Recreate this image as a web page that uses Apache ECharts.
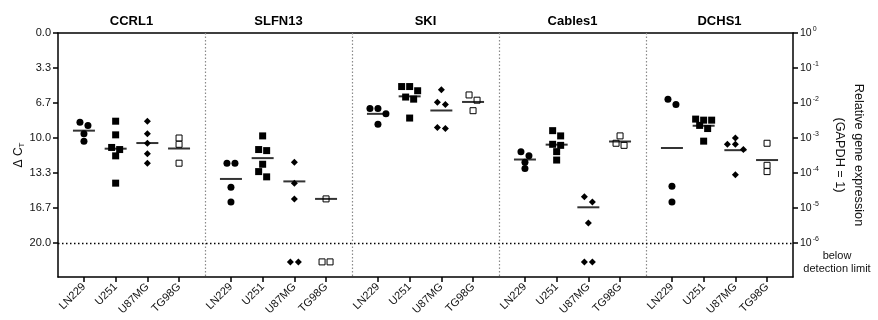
<!DOCTYPE html>
<html>
<head>
<meta charset="utf-8">
<script src="https://cdn.jsdelivr.net/npm/echarts/dist/echarts.min.js"></script>
<style>
  html, body { margin: 0; padding: 0; background: #fff; }
  #chart { width: 878px; height: 320px; }
</style>
</head>
<body>
<div id="chart"></div>
<script>
// ---------------- DATA ----------------
const genes = ['CCRL1', 'SLFN13', 'SKI', 'Cables1', 'DCHS1'];
const cellLines = ['LN229', 'U251', 'U87MG', 'TG98G'];
const leftTickLabels = ['0.0', '3.3', '6.7', '10.0', '13.3', '16.7', '20.0'];
const leftTickValues = [0, 10 / 3, 20 / 3, 10, 40 / 3, 50 / 3, 20];
const rightTickExponents = ['0', '-1', '-2', '-3', '-4', '-5', '-6'];

// ΔCT values per gene / cell line; null = below detection limit
const ccrl1_LN229 = [8.5, 8.8, 9.6, 10.3];
const ccrl1_U251 = [8.4, 9.7, 10.9, 11.1, 11.7, 14.3];
const ccrl1_U87MG = [8.4, 9.6, 10.5, 11.5, 12.4];
const ccrl1_TG98G = [10.0, 10.6, 12.4];

const slfn13_LN229 = [12.4, 12.4, 14.7, 16.1];
const slfn13_U251 = [9.8, 11.1, 11.2, 12.5, 13.2, 13.7];
const slfn13_U87MG = [12.3, 14.3, 15.8, null, null];
const slfn13_TG98G = [15.8, null, null];

const ski_LN229 = [7.2, 7.2, 7.7, 8.7];
const ski_U251 = [5.1, 5.1, 5.5, 6.1, 6.3, 8.1];
const ski_U87MG = [5.4, 6.6, 6.8, 9.0, 9.1];
const ski_TG98G = [5.9, 6.4, 7.4];

const cables1_LN229 = [11.3, 11.7, 12.3, 12.9];
const cables1_U251 = [9.3, 9.8, 10.6, 10.7, 11.3, 12.1];
const cables1_U87MG = [15.6, 16.1, 18.1, null, null];
const cables1_TG98G = [9.8, 10.5, 10.7];

const dchs1_LN229 = [6.3, 6.8, 14.6, 16.1];
const dchs1_U251 = [8.2, 8.3, 8.3, 8.8, 9.1, 10.3];
const dchs1_U87MG = [10.0, 10.6, 10.6, 11.1, 13.5];
const dchs1_TG98G = [10.5, 12.6, 13.2];

const table = [
  [ccrl1_LN229, ccrl1_U251, ccrl1_U87MG, ccrl1_TG98G],
  [slfn13_LN229, slfn13_U251, slfn13_U87MG, slfn13_TG98G],
  [ski_LN229, ski_U251, ski_U87MG, ski_TG98G],
  [cables1_LN229, cables1_U251, cables1_U87MG, cables1_TG98G],
  [dchs1_LN229, dchs1_U251, dchs1_U87MG, dchs1_TG98G]
];

// ---------------- LAYOUT ----------------
const FONT = '"Liberation Sans", Arial, Helvetica, sans-serif';
const PLOT_L = 58, PLOT_R = 793, PLOT_T = 33, PLOT_B = 277;
const W = 878, H = 320;
const Y_MAX = (PLOT_B - PLOT_T) / ((243 - PLOT_T) / 20);
const BDL_ROW = 21.8;      // display row for "below detection limit"
const PANEL_W = (PLOT_R - PLOT_L) / genes.length;
const CAT_STEP = 31.7;
const ROW_H = 0.55;
const JIT_STEP = 8;

const symbolsFor = [
  { symbol: 'circle', size: 7, fill: '#000', stroke: '#000', bw: 0 },
  { symbol: 'rect', size: 7, fill: '#000', stroke: '#000', bw: 0 },
  { symbol: 'diamond', size: 7, fill: '#000', stroke: '#000', bw: 0 },
  { symbol: 'rect', size: 6, fill: '#fff', stroke: '#000', bw: 1 }
];

function jitter(vals) {
  const idx = vals.map((v, i) => i).sort((a, b) => vals[a] - vals[b]);
  const offs = new Array(vals.length).fill(0);
  let row = [];
  const flush = () => {
    row.forEach((k, j) => { offs[k] = (j - (row.length - 1) / 2) * JIT_STEP; });
    row = [];
  };
  idx.forEach(k => {
    if (row.length && vals[k] - vals[row[0]] > ROW_H) flush();
    row.push(k);
  });
  flush();
  return offs;
}

const grids = [{ left: PLOT_L, right: W - PLOT_R, top: PLOT_T, bottom: H - PLOT_B, containLabel: false }];
const xAxes = [
  { gridIndex: 0, type: 'value', min: 0, max: genes.length, position: 'bottom',
    axisLine: { show: true, onZero: false, lineStyle: { color: '#000', width: 1.5 } },
    axisTick: { show: false }, axisLabel: { show: false }, splitLine: { show: false } },
  { gridIndex: 0, type: 'value', min: 0, max: genes.length, position: 'top',
    axisLine: { show: true, onZero: false, lineStyle: { color: '#000', width: 1.5 } },
    axisTick: { show: false }, axisLabel: { show: false }, splitLine: { show: false } }
];
const yAxes = [
  { gridIndex: 0, type: 'value', min: 0, max: Y_MAX, inverse: true, position: 'left',
    name: 'Δ C{sub|T}', nameLocation: 'middle', nameRotate: 90, nameGap: 32, nameMoveOverlap: false,
    nameTextStyle: { fontFamily: FONT, fontSize: 12, color: '#111',
      rich: { sub: { fontFamily: FONT, fontSize: 8, verticalAlign: 'bottom', padding: [6, 0, 0, 0] } } },
    axisLine: { show: true, onZero: false, lineStyle: { color: '#000', width: 1.5 } },
    axisTick: { show: true, length: 5, customValues: leftTickValues, lineStyle: { color: '#000', width: 1.5 } },
    axisLabel: { show: true, customValues: leftTickValues, margin: 7, fontFamily: FONT, fontSize: 11, color: '#111',
      formatter: v => leftTickLabels[Math.round(v / (10 / 3))] },
    splitLine: { show: false } },
  { gridIndex: 0, type: 'value', min: 0, max: Y_MAX, inverse: true, position: 'right',
    name: 'Relative gene expression\n(GAPDH = 1)', nameLocation: 'middle', nameRotate: -90, nameGap: 36,
    nameTextStyle: { fontFamily: FONT, fontSize: 12.7, color: '#111', lineHeight: 19 },
    axisLine: { show: true, onZero: false, lineStyle: { color: '#000', width: 1.5 } },
    axisTick: { show: true, length: 5, customValues: leftTickValues, lineStyle: { color: '#000', width: 1.5 } },
    axisLabel: { show: true, customValues: leftTickValues, margin: 7, color: '#111',
      formatter: v => '{b|10}{s|' + rightTickExponents[Math.round(v / (10 / 3))] + '}',
      rich: {
        b: { fontFamily: FONT, fontSize: 10.5, color: '#111', lineHeight: 14 },
        s: { fontFamily: FONT, fontSize: 7, color: '#111', verticalAlign: 'top', lineHeight: 14, padding: [0, 0, 0, 1] }
      } },
    splitLine: { show: false } }
];

const series = [{
  type: 'scatter', xAxisIndex: 0, yAxisIndex: 0, data: [], silent: true,
  markLine: {
    silent: true, symbol: 'none', label: { show: false }, animation: false,
    data: [
      ...[1, 2, 3, 4].map(x => ({ xAxis: x, lineStyle: { color: '#8a8a8a', type: [1.5, 2], width: 1.2 } })),
      { yAxis: 20, lineStyle: { color: '#000', type: [1.5, 2.5], width: 1.3 } }
    ]
  }
}];

genes.forEach((gene, g) => {
  const center = PLOT_L + PANEL_W * g + PANEL_W / 2;
  const left = center - 2 * CAT_STEP;
  grids.push({ left: left, width: 4 * CAT_STEP, top: PLOT_T, bottom: H - PLOT_B });
  const gi = grids.length - 1;
  const xb = xAxes.length;
  xAxes.push({
    gridIndex: gi, type: 'category', data: cellLines, position: 'bottom', boundaryGap: true,
    axisLine: { show: false, onZero: false },
    axisTick: { show: true, alignWithLabel: true, length: 5, lineStyle: { color: '#000', width: 1.5 } },
    axisLabel: { show: true, rotate: 45, margin: 8, fontFamily: FONT, fontSize: 11, color: '#111', interval: 0 },
    splitLine: { show: false }
  });
  xAxes.push({
    gridIndex: gi, type: 'category', data: cellLines, position: 'top',
    name: gene, nameLocation: 'middle', nameGap: 5,
    nameTextStyle: { fontFamily: FONT, fontSize: 13, fontWeight: 'bold', color: '#000', verticalAlign: 'bottom' },
    axisLine: { show: false, onZero: false }, axisTick: { show: false }, axisLabel: { show: false }, splitLine: { show: false }
  });
  const yi = yAxes.length;
  yAxes.push({ gridIndex: gi, type: 'value', min: 0, max: Y_MAX, inverse: true, show: false });

  const means = [];
  cellLines.forEach((cl, c) => {
    const vals = table[g][c];
    const plotted = vals.map(v => (v == null ? BDL_ROW : v));
    const offs = jitter(plotted);
    const st = symbolsFor[c];
    series.push({
      type: 'scatter', xAxisIndex: xb, yAxisIndex: yi, silent: true, animation: false,
      symbol: st.symbol, symbolSize: st.size,
      itemStyle: { color: st.fill, borderColor: st.stroke, borderWidth: st.bw, opacity: 1 },
      data: plotted.map((v, k) => ({ value: [c, v], symbolOffset: [offs[k], 0] })),
      z: 3
    });
    const det = vals.filter(v => v != null);
    means.push([c, det.reduce((a, b) => a + b, 0) / det.length]);
  });
  series.push({
    type: 'scatter', xAxisIndex: xb, yAxisIndex: yi, silent: true, animation: false,
    symbol: 'rect', symbolSize: [22, 2], itemStyle: { color: '#000' },
    data: means, z: 4
  });
});

const chart = echarts.init(document.getElementById('chart'), null, { renderer: 'canvas' });
chart.setOption({
  animation: false,
  backgroundColor: '#fff',
  grid: grids,
  xAxis: xAxes,
  yAxis: yAxes,
  series: series,
  graphic: [{
    type: 'text', silent: true,
    style: { text: 'below\ndetection limit', x: 837, y: 262, align: 'center', verticalAlign: 'middle',
      fontFamily: FONT, fontSize: 11, fill: '#111', lineHeight: 13 }
  }]
});
</script>
</body>
</html>
